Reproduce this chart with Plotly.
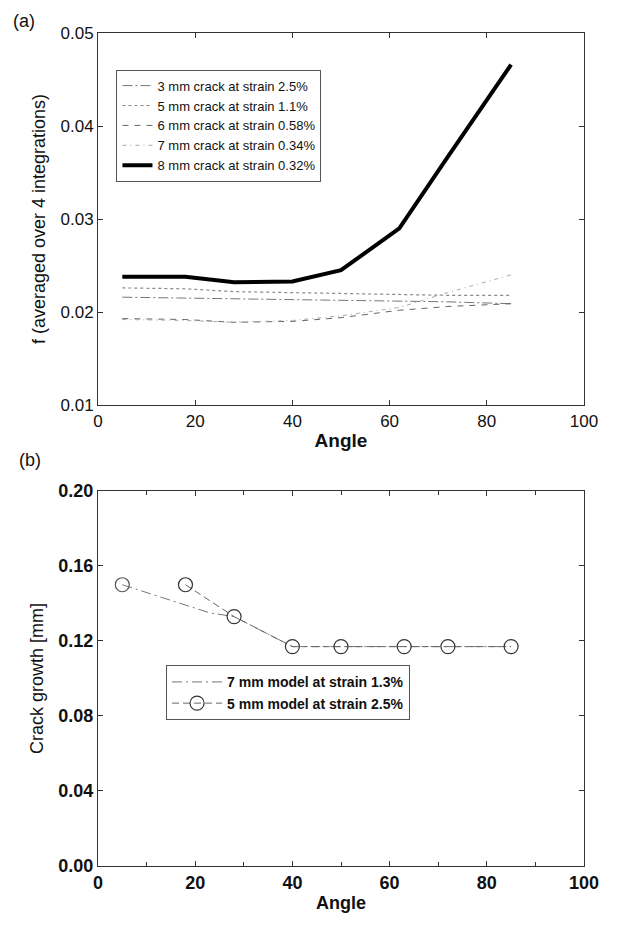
import plotly.graph_objects as go
from plotly.subplots import make_subplots

# ---- data (a) ----
angles_a = [5, 18, 28, 40, 50, 62, 72, 85]
f_3mm = [0.0216, 0.0215, 0.0215, 0.0214, 0.0213, 0.0212, 0.0211, 0.0209]
f_5mm = [0.0226, 0.0225, 0.0222, 0.0221, 0.0220, 0.0219, 0.0218, 0.0218]
f_6mm = [0.0193, 0.0192, 0.0189, 0.0190, 0.0194, 0.0202, 0.0206, 0.0209]
f_7mm = [0.0192, 0.0191, 0.0189, 0.0191, 0.0196, 0.0205, 0.0221, 0.0240]
f_8mm = [0.0238, 0.0238, 0.0232, 0.0233, 0.0245, 0.0290, 0.0367, 0.0466]
names_a = ["3 mm crack at strain 2.5%", "5 mm crack at strain 1.1%",
           "6 mm crack at strain 0.58%", "7 mm crack at strain 0.34%",
           "8 mm crack at strain 0.32%"]

# ---- data (b) ----
angles_7mm_model = [5, 23, 28, 40, 50, 63, 72, 85]
growth_7mm_model = [0.150, 0.135, 0.133, 0.117, 0.117, 0.117, 0.117, 0.117]
angles_5mm_model = [18, 28, 40, 50, 63, 72, 85]
growth_5mm_model = [0.150, 0.133, 0.117, 0.117, 0.117, 0.117, 0.117]
angle_extra_marker = [5]
growth_extra_marker = [0.150]
names_b = ["7 mm model at strain 1.3%", "5 mm model at strain 2.5%"]

FONT = "Liberation Sans, Arial, Helvetica, sans-serif"

fig = make_subplots(rows=2, cols=1)
fig.update_layout(
    xaxis=dict(domain=[0, 1], anchor="y"),
    yaxis=dict(domain=[0.5533, 1.0], anchor="x"),
    xaxis2=dict(domain=[0, 1], anchor="y2"),
    yaxis2=dict(domain=[0.0, 0.4502], anchor="x2"),
)

styles_a = [
    dict(color="#777777", width=1, dash="10px,3px,2px,3px"),
    dict(color="#888888", width=1.2, dash="dot"),
    dict(color="#666666", width=1, dash="6px,6px"),
    dict(color="#aaaaaa", width=1, dash="4px,4px,1px,4px"),
    dict(color="#000000", width=4),
]
series_a = [f_3mm, f_5mm, f_6mm, f_7mm, f_8mm]
for name, ys, st in zip(names_a, series_a, styles_a):
    fig.add_trace(go.Scatter(x=angles_a, y=ys, mode="lines", name=name,
                             line=st, legend="legend"), row=1, col=1)

fig.add_trace(go.Scatter(x=angles_7mm_model, y=growth_7mm_model, mode="lines",
                         name=names_b[0],
                         line=dict(color="#777777", width=1, dash="10px,4px,2px,4px"),
                         legend="legend2"), row=2, col=1)
fig.add_trace(go.Scatter(x=angles_5mm_model, y=growth_5mm_model, mode="lines+markers",
                         name=names_b[1],
                         line=dict(color="#666666", width=1, dash="7px,4px"),
                         marker=dict(symbol="circle-open", size=14,
                                     color="#333333", line=dict(width=1.2)),
                         legend="legend2"), row=2, col=1)
fig.add_trace(go.Scatter(x=angle_extra_marker, y=growth_extra_marker, mode="markers",
                         showlegend=False,
                         marker=dict(symbol="circle-open", size=14,
                                     color="#555555", line=dict(width=1.2))),
              row=2, col=1)

axis_common = dict(showline=True, linecolor="#333333", linewidth=1, mirror="ticks",
                   ticks="inside", ticklen=5, tickcolor="#333333",
                   showgrid=False, zeroline=False)

fig.update_xaxes(axis_common, range=[0, 100], dtick=20, row=1, col=1,
                 ticklabeloverflow="allow",
                 tickfont=dict(family=FONT, size=17, color="#111111"),
                 title=dict(text="Angle", font=dict(family=FONT, size=19,
                                                     color="#111111", weight="bold"),
                            standoff=4))
fig.update_yaxes(axis_common, range=[0.01, 0.05], dtick=0.01, tickformat=".2f",
                 row=1, col=1,
                 tickfont=dict(family=FONT, size=17, color="#111111"),
                 title=dict(text="f (averaged over 4 integrations)",
                            font=dict(family=FONT, size=18, color="#111111"),
                            standoff=10))
fig.update_xaxes(axis_common, range=[0, 100], dtick=20, row=2, col=1,
                 ticklabeloverflow="allow",
                 minor=dict(dtick=10, ticks="inside", ticklen=4, tickcolor="#333333"),
                 tickfont=dict(family=FONT, size=18, color="#111111", weight="bold"),
                 title=dict(text="Angle", font=dict(family=FONT, size=18,
                                                     color="#111111", weight="bold"),
                            standoff=4))
fig.update_yaxes(axis_common, range=[0.0, 0.2], dtick=0.04, tickformat=".2f",
                 row=2, col=1,
                 tickfont=dict(family=FONT, size=18, color="#111111", weight="bold"),
                 title=dict(text="Crack growth [mm]",
                            font=dict(family=FONT, size=18, color="#111111"),
                            standoff=10))

# figure is 16px smaller than the window so that the page's default 8px body
# margin does not produce scrollbars
fig.update_layout(
    width=603, height=913,
    margin=dict(l=90, r=14, t=25, b=44),
    paper_bgcolor="white", plot_bgcolor="white",
    font=dict(family=FONT, color="#111111"),
    legend=dict(x=0.038, y=0.956, xanchor="left", yanchor="top",
                bordercolor="#555555", borderwidth=1, bgcolor="white",
                font=dict(family=FONT, size=13, color="#111111"),
                itemwidth=30, tracegroupgap=0),
    legend2=dict(x=0.14, y=0.2409, xanchor="left", yanchor="top",
                 bordercolor="#555555", borderwidth=1, bgcolor="white",
                 font=dict(family=FONT, size=14, color="#111111", weight="bold"),
                 itemwidth=50),
    annotations=[
        dict(text="(a)", x=-0.18, y=1.0142, xref="paper", yref="paper",
             xanchor="left", yanchor="middle", showarrow=False,
             font=dict(family=FONT, size=18, color="#111111")),
        dict(text="(b)", x=-0.166, y=0.487, xref="paper", yref="paper",
             xanchor="left", yanchor="middle", showarrow=False,
             font=dict(family=FONT, size=18, color="#111111")),
    ],
)

fig.write_html("out.html")
